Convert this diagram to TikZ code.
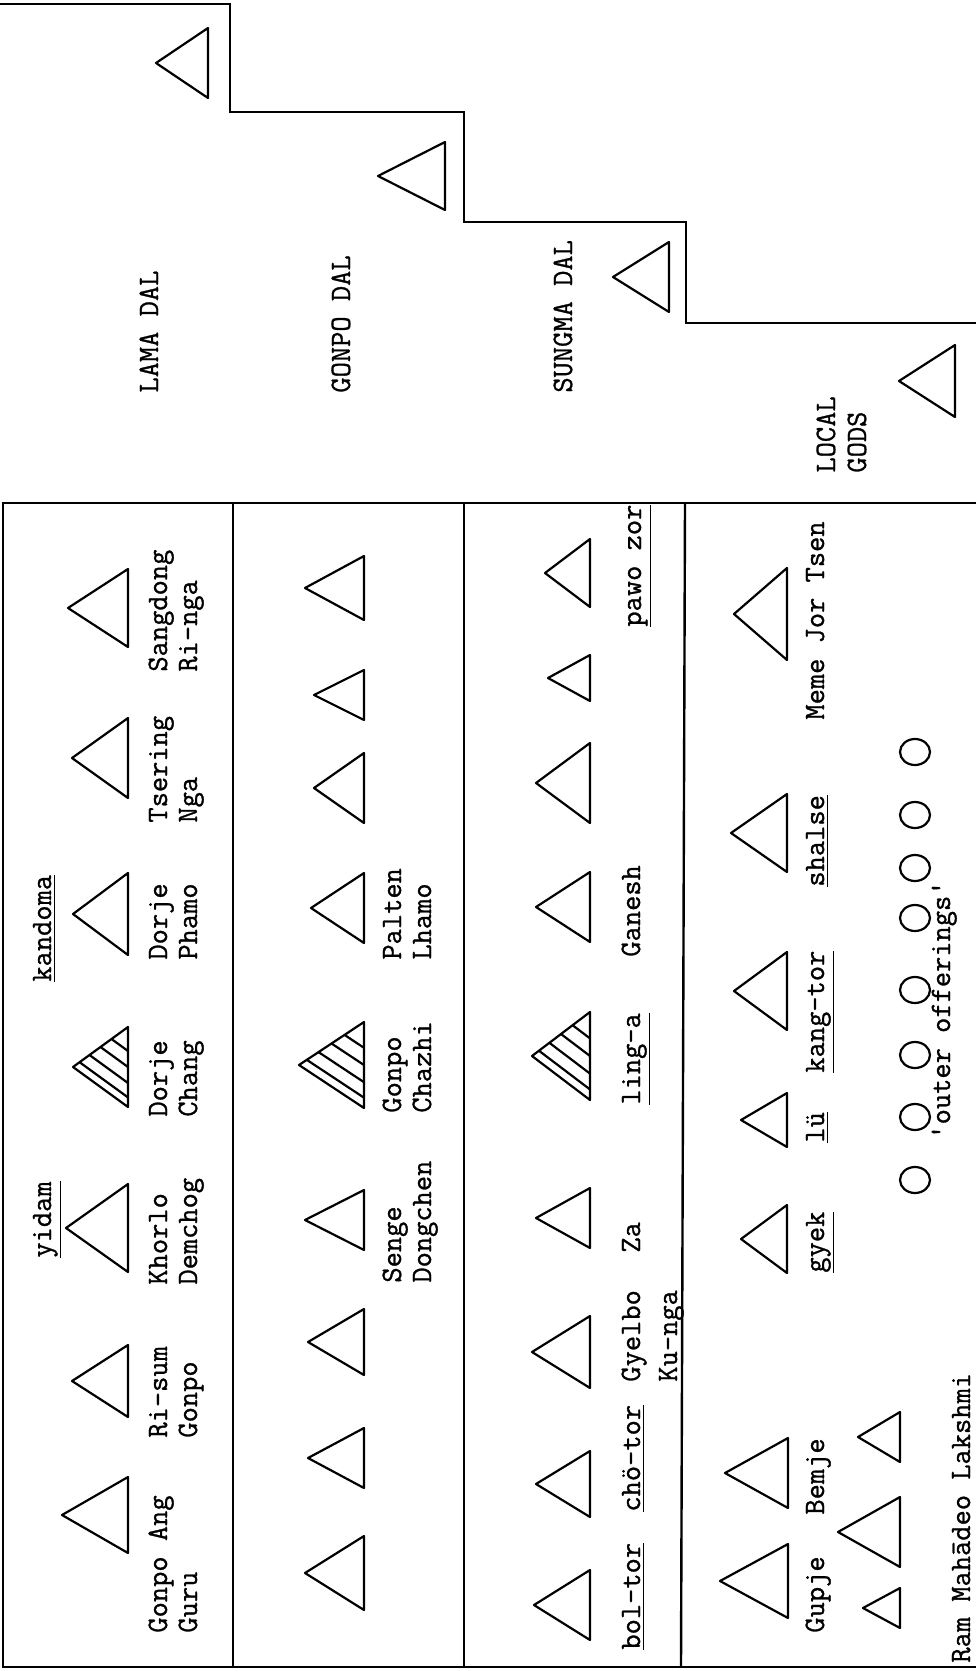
\documentclass[tikz,border=0pt]{standalone}
\usepackage{fontspec}
\newfontfamily\tw{lmmono12-regular}[Extension=.otf, FakeBold=1]
\usetikzlibrary{calc}
\tikzset{
  lab/.style={rotate=90, anchor=base west, inner sep=0pt, font=\tw\fontsize{14.8}{16}\selectfont},
  tri/.style={line width=1.1pt, line join=round},
  rule/.style={line width=1.2pt}
}
\newcommand{\Tri}[4]{\draw[tri] (#1,#2) -- (#3,{#2-#4}) -- (#3,{#2+#4}) -- cycle;}
\newcommand{\HTri}[4]{%
  \Tri{#1}{#2}{#3}{#4}
  \coordinate (hA) at (#1,#2);
  \coordinate (hB) at (#3,{#2+#4});
  \coordinate (hC) at (#3,{#2-#4});
  \foreach \t in {0.12,0.3,0.5,0.7} {\draw[tri] ($(hA)!\t!(hC)$) -- ($(hB)!\t!(hC)$);}
}
\begin{document}
\begin{tikzpicture}[x=0.5pt,y=-0.5pt]
\useasboundingbox (0,0) rectangle (976,1671);
% staircase
\draw[rule] (0,4) -- (230,4) -- (230,112) -- (464,112) -- (464,222) -- (686,222) -- (686,323) -- (976,323);
% main box
\draw[rule] (976,503) -- (3,503) -- (3,1667) -- (976,1667);
\draw[rule] (233,503) -- (233,1667);
\draw[rule] (464,503) -- (464,1667);
\draw[rule] (685,503) -- (681,1667);
% staircase triangles and labels
\Tri{156}{63}{208}{35}
\Tri{378}{176}{445}{34}
\Tri{613}{277}{669}{35}
\Tri{899}{381}{955}{36}
\node[lab] (lamadal) at (158,393) {LAMA DAL};
\node[lab] (gonpodal) at (350,393) {GONPO DAL};
\node[lab] (sungmadal) at (572,393) {SUNGMA DAL};
\node[lab] (local) at (835,473) {LOCAL};
\node[lab] (gods) at (866,473) {GODS};
% LAMA section
\Tri{68}{608}{128}{39}
\Tri{72}{758}{128}{40}
\Tri{73}{914}{128}{41}
\HTri{73}{1067}{128}{40}
\Tri{66}{1228}{128}{44}
\Tri{72}{1381}{128}{36}
\Tri{62}{1515}{128}{38}
\node[lab] (sangdong) at (167,672) {Sangdong};
\node[lab] (ringa) at (197,672) {Ri-nga};
\node[lab] (tsering) at (167,823) {Tsering};
\node[lab] (nga) at (197,823) {Nga};
\node[lab] (kandoma) at (51,982) {\underline{kandoma}};
\node[lab] (dorje1) at (167,960) {Dorje};
\node[lab] (phamo) at (197,960) {Phamo};
\node[lab] (dorje2) at (167,1117) {Dorje};
\node[lab] (chang) at (197,1117) {Chang};
\node[lab] (yidam) at (51,1258) {\underline{yidam}};
\node[lab] (khorlo) at (167,1285) {Khorlo};
\node[lab] (demchog) at (197,1285) {Demchog};
\node[lab] (risum) at (167,1438) {Ri-sum};
\node[lab] (gonpo1) at (197,1438) {Gonpo};
\node[lab] (gonpoang) at (167,1633) {Gonpo Ang};
\node[lab] (guru) at (197,1633) {Guru};
% GONPO section
\Tri{305}{588}{364}{32}
\Tri{314}{695}{364}{25}
\Tri{314}{788}{364}{35}
\Tri{311}{908}{364}{35}
\HTri{299}{1065}{364}{43}
\Tri{305}{1220}{364}{30}
\Tri{308}{1342}{364}{33}
\Tri{308}{1458}{364}{30}
\Tri{305}{1573}{364}{37}
\node[lab] (palten) at (401,960) {Palten};
\node[lab] (lhamo) at (431,960) {Lhamo};
\node[lab] (gonpo2) at (401,1113) {Gonpo};
\node[lab] (chazhi) at (431,1113) {Chazhi};
\node[lab] (senge) at (401,1283) {Senge};
\node[lab] (dongchen) at (431,1283) {Dongchen};
% SUNGMA section
\Tri{545}{573}{590}{34}
\Tri{548}{678}{590}{23}
\Tri{536}{783}{590}{40}
\Tri{536}{907}{590}{35}
\HTri{532}{1056}{590}{44}
\Tri{536}{1218}{590}{30}
\Tri{532}{1352}{590}{36}
\Tri{536}{1484}{590}{33}
\Tri{534}{1605}{590}{35}
\node[lab] (pawozor) at (641,627) {\underline{pawo zor}};
\node[lab] (ganesh) at (640,957) {Ganesh};
\node[lab] (linga) at (640,1105) {\underline{ling-a}};
\node[lab] (za) at (640,1253) {Za};
\node[lab] (gyelbo) at (640,1382) {Gyelbo};
\node[lab] (kunga) at (677,1382) {Ku-nga};
\node[lab] (chotor) at (640,1512) {\underline{chö-tor}};
\node[lab] (boltor) at (640,1650) {\underline{bol-tor}};
% LOCAL section
\Tri{734}{614}{787}{46}
\Tri{731}{833}{787}{39}
\Tri{734}{991}{787}{39}
\Tri{741}{1120}{787}{27}
\Tri{741}{1239}{787}{34}
\Tri{725}{1473}{788}{35}
\Tri{858}{1437}{900}{25}
\Tri{838}{1532}{900}{35}
\Tri{720}{1581}{788}{37}
\Tri{863}{1608}{900}{20}
\node[lab] (meme) at (824,720) {Meme Jor Tsen};
\node[lab] (shalse) at (824,887) {\underline{shalse}};
\node[lab] (kangtor) at (824,1073) {\underline{kang-tor}};
\node[lab] (lu) at (824,1143) {\underline{lü}};
\node[lab] (gyek) at (824,1273) {\underline{gyek}};
\node[lab] (bemje) at (824,1515) {Bemje};
\node[lab] (gupje) at (824,1633) {Gupje};
\foreach \cy in {752,815,868,918,990,1055,1117,1180}
  \draw[tri] (915,\cy) ellipse [x radius=7.5pt, y radius=6.5pt];
\node[lab] (outer) at (950,1140) {'outer offerings'};
\node[lab] (ram) at (970,1663) {Ram Mahādeo Lakshmi};
\end{tikzpicture}
\end{document}
